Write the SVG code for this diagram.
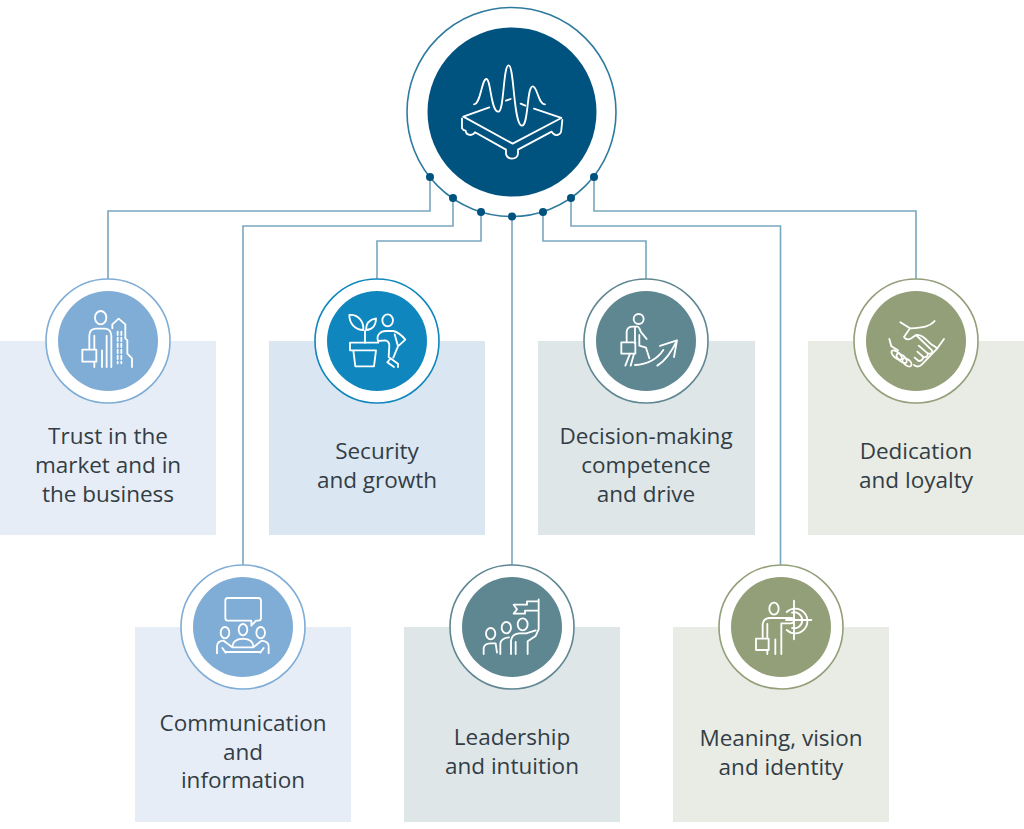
<svg xmlns="http://www.w3.org/2000/svg" width="1024" height="829" viewBox="0 0 1024 829">
<style>
text{font-family:"Open Sans","Noto Sans","Liberation Sans",sans-serif;font-size:22.5px;fill:#323d45;text-anchor:middle}
.ln{fill:none;stroke:#78a6bf;stroke-width:1.6}
.ic{fill:none;stroke:#fff;stroke-width:5.500;stroke-linecap:round;stroke-linejoin:round}
.ring{fill:#fff;stroke-width:1.6}
.blue .tile{fill:#e6edf6}.blue .ring{stroke:#7fadd6}.blue .disc{fill:#7fadd6}
.mid .tile{fill:#dbe6f3}.mid .ring{stroke:#0f87be}.mid .disc{fill:#0f87be}
.teal .tile{fill:#dfe6e8}.teal .ring{stroke:#5f8792}.teal .disc{fill:#5f8792}
.olive .tile{fill:#e9ebe5}.olive .ring{stroke:#939f78}.olive .disc{fill:#939f78}
</style>
<rect width="1024" height="829" fill="#fff"/>
<!-- card backgrounds -->
<g class="blue"><rect class="tile" x="0" y="341" width="216" height="194"/><rect class="tile" x="135" y="627" width="216" height="195"/></g>
<g class="mid"><rect class="tile" x="269" y="341" width="216" height="194"/></g>
<g class="teal"><rect class="tile" x="538" y="341" width="217" height="194"/><rect class="tile" x="404" y="627" width="216" height="195"/></g>
<g class="olive"><rect class="tile" x="808" y="341" width="216" height="194"/><rect class="tile" x="673" y="627" width="216" height="195"/></g>
<g id="connectors">
<path class="ln" d="M430 177V211H108V280"/>
<path class="ln" d="M453 198V226H243V567"/>
<path class="ln" d="M481 212V241H377V280"/>
<path class="ln" d="M512 216V567"/>
<path class="ln" d="M543 212V241H646V280"/>
<path class="ln" d="M571 198V226H780.500V567"/>
<path class="ln" d="M594 177V211H916V280"/>
</g>
<g id="hub">
<circle cx="511.500" cy="112" r="104.500" fill="#fff" stroke="#2f7a9f" stroke-width="1.600"/>
<circle cx="512" cy="112" r="84.500" fill="#00527f"/>
<g fill="#00527f"><circle cx="430" cy="177" r="4"/><circle cx="453" cy="198" r="4"/><circle cx="481" cy="212" r="4"/><circle cx="512" cy="216.500" r="4"/><circle cx="543" cy="212" r="4"/><circle cx="571" cy="198" r="4"/><circle cx="594" cy="177" r="4"/></g>
<g class="ic" transform="translate(400 0) scale(.3333)">
<path d="M222 313C242 313 245 237 259 237C273 237 272 335 295 335C313 335 309 196 326 196C343 196 340 377 366 377C386 377 380 259 398 259C413 259 414 313 435 313"/>
<path d="M190 350L268 322M318 302L332 297M362 311L376 317M402 326L484 354L338 431L190 350"/>
<path d="M186 355V385Q190 392 197 392Q198 405 212 405Q222 403 225 397L318 449V462Q322 476 336 476Q352 476 354 462V449L455 395Q462 407 472 405Q484 402 484 390L487 360"/>
</g>
</g>
<g id="trust" class="blue">
<circle class="ring" cx="108" cy="341" r="62"/><circle class="disc" cx="108" cy="341" r="50"/>
<g class="ic" transform="translate(40 275) scale(.3333)">
<ellipse cx="182" cy="128" rx="17" ry="20"/>
<path d="M148 222V182Q148 163 167 161H195Q213 163 214 182V276M163 182V222M200 182V276M186 226V276M163 262V276"/>
<rect x="127" y="224" width="42" height="36"/>
<path d="M217 160V148L236 131L256 148V190L262 196V236L276 250V276"/>
<path d="M233 170V265M244 170V265" stroke-dasharray="10 8"/>
</g>
<text x="108" y="443.500">Trust in the</text><text x="108" y="472.500">market and in</text><text x="108" y="501.500">the business</text>
</g>
<g id="security" class="mid">
<circle class="ring" cx="377" cy="341" r="62"/><circle class="disc" cx="377" cy="341" r="50"/>
<g class="ic" transform="translate(310 275) scale(.3333)">
<path d="M118 120C145 118 162 140 160 165C135 165 118 145 118 120Z"/>
<path d="M168 165C168 145 180 133 198 130C198 150 188 165 168 165Z"/>
<path d="M165 203V168"/>
<path d="M205 203H120V226H198M130 226L136 274H192L198 226"/>
<ellipse cx="233" cy="136" rx="16" ry="18"/>
<path d="M204 198C198 180 212 168 228 168H250Q268 172 286 194L264 214M204 198L226 196Q238 198 238 212L236 246L264 266V276M240 252L232 262L252 276M254 178L264 214L250 248"/>
</g>
<text x="377" y="458.500">Security</text><text x="377" y="487.500">and growth</text>
</g>
<g id="decision" class="teal">
<circle class="ring" cx="646" cy="341" r="62"/><circle class="disc" cx="646" cy="341" r="50"/>
<g class="ic" transform="translate(580 275) scale(.3333)">
<circle cx="176" cy="132" r="15"/>
<path d="M140 200V170Q142 155 158 155H172Q178 156 182 170L200 192M165 158V205M178 180V212L198 218L208 250"/>
<rect x="124" y="202" width="42" height="34"/>
<path d="M150 236L136 272M162 236L152 272M165 270C200 268 230 255 250 225"/>
<path d="M240 213L291 196L282 246M232 272C255 258 275 230 291 196"/>
</g>
<text x="646" y="443.500">Decision-making</text><text x="646" y="472.500">competence</text><text x="646" y="501.500">and drive</text>
</g>
<g id="dedication" class="olive">
<circle class="ring" cx="916" cy="341" r="62"/><circle class="disc" cx="916" cy="341" r="50"/>
<g class="ic" transform="translate(848 275) scale(.3333)">
<path d="M157 142L186 160L168 186Q176 198 190 190L204 180L252 226Q254 238 240 236L212 212M260 138C245 155 225 158 186 160M204 180C222 178 232 192 250 208L268 220L288 192"/>
<path d="M124 192L130 214L150 226M198 270Q210 280 222 268L268 220M240 236Q238 250 226 246L208 230M226 246Q224 258 212 258L200 248"/>
<ellipse cx="146" cy="240" rx="19" ry="9" transform="rotate(40 146 240)"/>
<ellipse cx="161" cy="250" rx="19" ry="9" transform="rotate(40 161 250)"/>
<ellipse cx="177" cy="262" rx="16" ry="9" transform="rotate(40 177 262)"/>
</g>
<text x="916" y="458.500">Dedication</text><text x="916" y="487.500">and loyalty</text>
</g>
<g id="communication" class="blue">
<circle class="ring" cx="243" cy="627" r="62"/><circle class="disc" cx="243" cy="627" r="50"/>
<g class="ic" transform="translate(175 562) scale(.3333)">
<path d="M158 108H250Q258 108 258 116V168Q258 176 250 176H243L229 191V176H158Q151 176 151 168V116Q151 108 158 108Z"/>
<ellipse cx="150" cy="212" rx="13" ry="17"/><ellipse cx="204" cy="203" rx="13" ry="17"/><ellipse cx="257" cy="212" rx="13" ry="17"/>
<path d="M126 274V252Q128 236 146 236L172 256H235L260 236Q280 238 281 252V274M142 258L152 272M266 258L256 272M172 256Q172 232 204 230Q236 232 235 256M152 270H256"/>
</g>
<text x="243" y="730.500">Communication</text><text x="243" y="759.500">and</text><text x="243" y="787.500">information</text>
</g>
<g id="leadership" class="teal">
<circle class="ring" cx="512" cy="627" r="62"/><circle class="disc" cx="512" cy="627" r="50"/>
<g class="ic" transform="translate(445 562) scale(.3333)">
<path d="M281 112V202L272 222L248 238V276M281 118H246V128H206L216 142L206 155H240V146H281"/>
<ellipse cx="233" cy="187" rx="15" ry="18"/><ellipse cx="184" cy="197" rx="14" ry="17"/><ellipse cx="137" cy="215" rx="14" ry="17"/>
<path d="M198 276V236Q200 216 222 214H244L272 205M212 240V276M166 276V245Q168 228 192 226M116 276V258Q118 245 136 244H152L156 272"/>
</g>
<text x="512" y="744.500">Leadership</text><text x="512" y="773.500">and intuition</text>
</g>
<g id="meaning" class="olive">
<circle class="ring" cx="781" cy="627" r="62"/><circle class="disc" cx="781" cy="627" r="50"/>
<g class="ic" transform="translate(712 562) scale(.3333)">
<ellipse cx="186" cy="140" rx="14" ry="18"/>
<path d="M152 226V186Q154 170 172 168H238Q248 170 246 178Q244 184 236 184H208V276M166 186V226M190 232V276M166 264V276"/>
<rect x="132" y="230" width="38" height="34"/>
<path d="M246 116V232M222 174H298"/>
<path d="M224 150A37 37 0 1 1 224 204"/>
<path d="M240 152A24 24 0 1 1 240 198"/>
</g>
<text x="781" y="745.500">Meaning, vision</text><text x="781" y="774.500">and identity</text>
</g>
</svg>
